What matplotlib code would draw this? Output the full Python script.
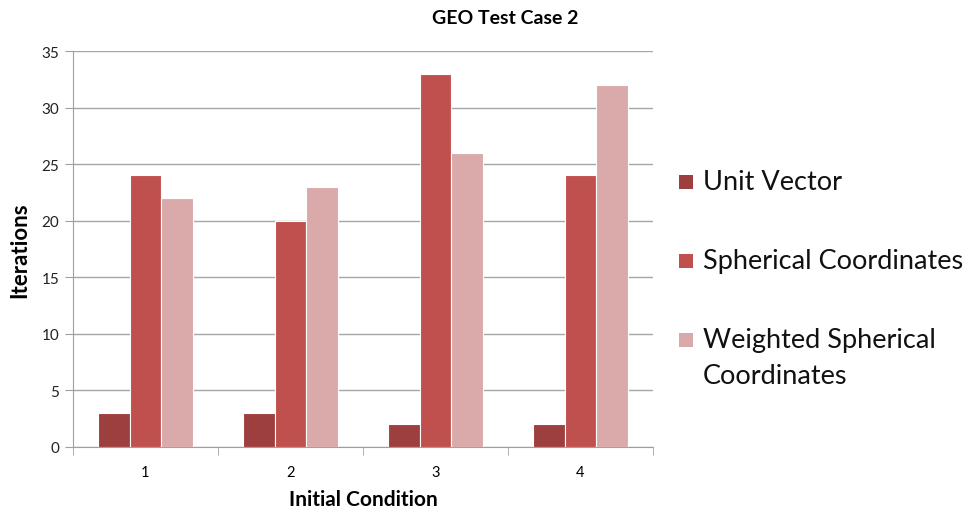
import numpy as np
import matplotlib.pyplot as plt
from matplotlib.patches import Rectangle

plt.rcParams['font.family'] = ['Lato', 'DejaVu Sans']

categories = ['1', '2', '3', '4']
unit_vector = [3, 3, 2, 2]
spherical = [24, 20, 33, 24]
weighted = [22, 23, 26, 32]
series_names = ['Unit Vector', 'Spherical Coordinates', 'Weighted Spherical\nCoordinates']
colors = ['#9E3F3F', '#C0504D', '#DAAAAA']

W, H = 968, 510
fig = plt.figure(figsize=(W / 100, H / 100), dpi=100)
ax = fig.add_axes([73 / W, 1 - 448 / H, 580 / W, 396 / H])

x = np.arange(len(categories))
w = 0.22
for i, (vals, c) in enumerate(zip([unit_vector, spherical, weighted], colors)):
    ax.bar(x + (i - 1) * w, vals, w, color=c, edgecolor='white', linewidth=0.8, zorder=3)

ax.set_ylim(0, 35)
ax.set_yticks(range(0, 36, 5))
ax.set_xlim(-0.5, 3.5)
ax.set_xticks(x)
ax.set_xticklabels(categories)
ax.set_xticks(np.arange(-0.5, 4, 1), minor=True)
ax.tick_params(axis='x', which='major', length=0, labelsize=10.5, pad=13)
ax.tick_params(axis='x', which='minor', length=6, color='#A0A0A0', direction='out')
ax.tick_params(axis='y', length=6, color='#A0A0A0', labelsize=11, pad=4, labelcolor='#222222')
ax.yaxis.grid(True, color='#A6A6A6', linewidth=1.0, zorder=0)
ax.set_axisbelow(True)
for s in ['top', 'right']:
    ax.spines[s].set_visible(False)
for s in ['left', 'bottom']:
    ax.spines[s].set_color('#A0A0A0')

ax.set_xlabel('Initial Condition', fontsize=15, fontweight='bold', labelpad=7)
ax.set_ylabel('Iterations', fontsize=16, fontweight='bold', labelpad=8)
fig.text(505 / W, 1 - 18 / H, 'GEO Test Case 2', fontsize=14, fontweight='bold',
         ha='center', va='center')

# legend drawn by hand so the marker sits on the first text line
y0, step, line_h = 183, 79, 36
for i, (name, c) in enumerate(zip(series_names, colors)):
    yc = y0 + i * step
    fig.patches.append(Rectangle((679 / W, 1 - (yc + 7) / H), 14 / W, 14 / H,
                                 transform=fig.transFigure, facecolor=c, edgecolor='none'))
    for k, line in enumerate(name.split('\n')):
        fig.text(703 / W, 1 - (yc + k * line_h) / H, line, fontsize=19.5,
                 ha='left', va='center', color='#111111')

fig.savefig('out.png', dpi=100)
